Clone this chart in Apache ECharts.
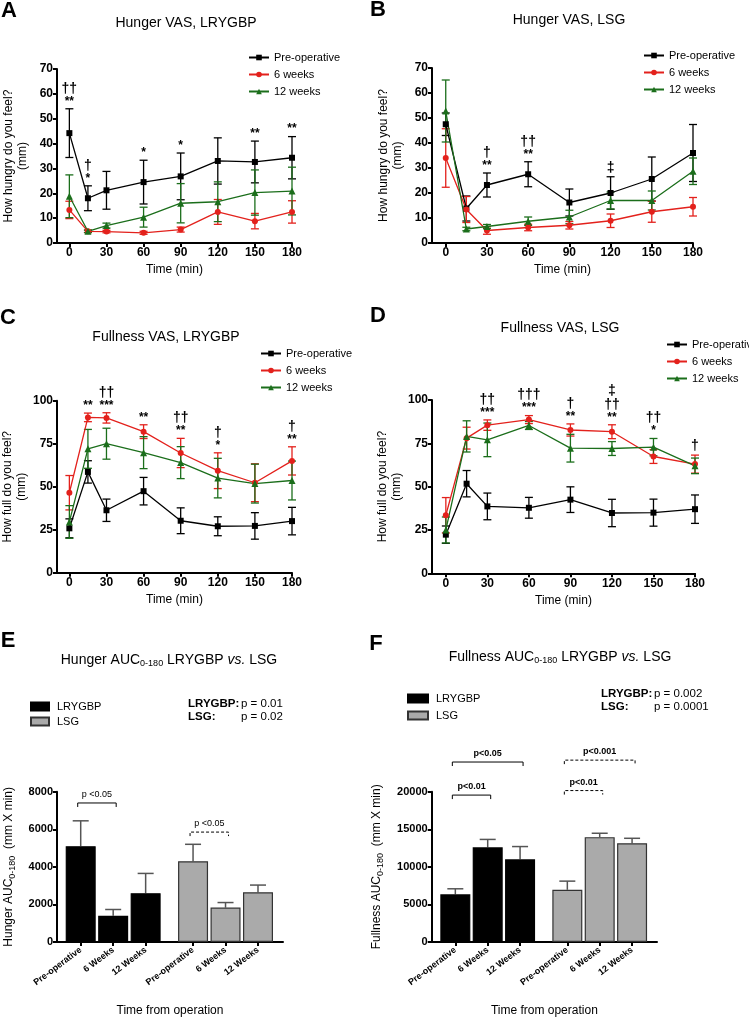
<!DOCTYPE html>
<html><head><meta charset="utf-8">
<script src="https://cdn.jsdelivr.net/npm/echarts@6/dist/echarts.min.js"></script>
<style>html,body{margin:0;padding:0;background:#fff}#c{width:749px;height:1018px}</style>
</head><body><div id="c"></div>
<script>
const FONT = 'Liberation Sans, Arial, sans-serif';

// ---------- DATA ----------
const times = [0, 15, 30, 60, 90, 120, 150, 180];
const timeTicks = [0, 30, 60, 90, 120, 150, 180];
const groupNames = ['Pre-operative', '6 weeks', '12 weeks'];

// A: Hunger VAS, LRYGBP (mean, SEM)
const hungerRygbPre = [44.2, 18.0, 21.2, 24.5, 26.8, 33.0, 32.6, 34.3];
const hungerRygbPreSem = [9.8, 5.0, 7.6, 8.8, 9.4, 9.3, 8.4, 8.5];
const hungerRygb6 = [13.3, 4.7, 4.6, 4.1, 5.4, 12.5, 8.8, 12.5];
const hungerRygb6Sem = [3.5, 0.5, 0.5, 0.6, 1.0, 5.0, 3.1, 4.5];
const hungerRygb12 = [18.8, 4.7, 7.0, 10.4, 16.0, 16.6, 20.3, 20.9];
const hungerRygb12Sem = [8.6, 0.5, 1.0, 4.0, 7.9, 8.0, 9.1, 9.6];
const annotA = [[0, '††', '**'], [15, '†', '*'], [60, '', '*'], [90, '', '*'], [150, '', '**'], [180, '', '**']];

// B: Hunger VAS, LSG
const hungerLsgPre = [47.5, 13.8, 23.2, 27.5, 16.2, 20.0, 25.6, 36.0];
const hungerLsgPreSem = [4.5, 5.0, 4.8, 5.0, 5.4, 6.5, 8.8, 11.4];
const hungerLsg6 = [34.0, 13.4, 5.0, 6.2, 7.1, 8.9, 12.5, 14.5];
const hungerLsg6Sem = [11.7, 5.2, 1.5, 1.3, 1.5, 2.7, 4.2, 3.7];
const hungerLsg12 = [52.8, 5.6, 6.6, 8.7, 10.4, 17.0, 17.0, 28.7];
const hungerLsg12Sem = [12.4, 0.7, 0.8, 1.7, 2.7, 3.4, 3.8, 5.3];
const annotB = [[30, '†', '**'], [60, '††', '**'], [120, '‡', '']];

// C: Fullness VAS, LRYGBP
const fullRygbPre = [25.8, 58.6, 36.3, 47.4, 30.2, 27.0, 27.2, 30.0];
const fullRygbPreSem = [5.5, 6.5, 6.5, 8.0, 7.5, 5.5, 7.7, 8.0];
const fullRygb6 = [46.5, 90.3, 90.0, 82.0, 69.6, 59.3, 52.3, 65.0];
const fullRygb6Sem = [10.0, 2.5, 3.0, 4.0, 8.5, 10.4, 11.0, 8.2];
const fullRygb12 = [29.5, 72.0, 75.0, 69.8, 64.0, 55.0, 51.8, 53.6];
const fullRygb12Sem = [9.5, 11.3, 9.0, 9.3, 9.3, 11.5, 11.3, 11.3];
const annotC = [[15, '', '**'], [30, '††', '***'], [60, '', '**'], [90, '††', '**'], [120, '†', '*'], [180, '†', '**']];

// D: Fullness VAS, LSG
const fullLsgPre = [22.3, 51.7, 38.6, 37.8, 42.5, 34.8, 35.0, 37.0];
const fullLsgPreSem = [5.0, 7.6, 7.7, 6.0, 7.4, 7.9, 7.8, 8.2];
const fullLsg6 = [33.5, 78.0, 85.5, 88.7, 82.7, 81.7, 67.4, 63.0];
const fullLsg6Sem = [10.2, 6.3, 3.0, 2.3, 3.5, 4.0, 4.0, 5.2];
const fullLsg12 = [25.0, 79.0, 77.0, 85.3, 72.2, 72.0, 72.8, 62.0];
const fullLsg12Sem = [7.5, 9.0, 9.7, 2.3, 8.0, 4.0, 5.0, 4.5];
const annotD = [[30, '††', '***'], [60, '†††', '***'], [90, '†', '**'], [120, '‡\n††', '**'], [150, '††', '*'], [180, '†', '']];

// E / F: AUC bars
const barGroups = ['LRYGBP', 'LSG'];
const barCategories = ['Pre-operative', '6 Weeks', '12 Weeks'];
const hungerAucRygb = [5100, 1400, 2600];
const hungerAucRygbSem = [1350, 330, 1050];
const hungerAucLsg = [4300, 1830, 2650];
const hungerAucLsgSem = [900, 270, 380];
const fullAucRygb = [6350, 12600, 11000];
const fullAucRygbSem = [730, 1050, 1700];
const fullAucLsg = [6950, 13950, 13150];
const fullAucLsgSem = [1150, 520, 650];
// comparisons: [group, fromIndex, toIndex, level, label, dashed]
const hungerComparisons = [[0, 0, 1, 7400, 'p <0.05', false], [1, 0, 1, 5850, 'p <0.05', true]];
const fullComparisons = [[0, 0, 1, 19550, 'p<0.01', false], [0, 0, 2, 23950, 'p<0.05', false],
                         [1, 0, 1, 20150, 'p<0.01', true], [1, 0, 2, 24200, 'p<0.001', true]];
const hungerStats = [['LRYGBP:', 'p = 0.01'], ['LSG:', 'p = 0.02']];
const fullStats = [['LRYGBP:', 'p = 0.002'], ['LSG:', 'p = 0.0001']];

// ---------- LAYOUT / STYLE ----------
const lineColors = ['#000000', '#e3211c', '#1b6e1b'];
const lineSymbols = ['rect', 'circle', 'triangle'];
const groupOffset = 3.46;           // x position of second bar group
const barPos = (g, i) => g * groupOffset + i;

const linePanels = [
  { title: 'Hunger VAS, LRYGBP', tx: 186, ty: 23, letter: 'A', lx: 9, ly: 11,
    grid: { left: 57, top: 69, width: 235, height: 174 }, yMax: 70, yInt: 10,
    yName: 'How hungry do you feel?\n(mm)', legend: { left: 243, top: 47 },
    means: [hungerRygbPre, hungerRygb6, hungerRygb12], sems: [hungerRygbPreSem, hungerRygb6Sem, hungerRygb12Sem], annot: annotA },
  { title: 'Hunger VAS, LSG', tx: 569, ty: 20, letter: 'B', lx: 378, ly: 10,
    grid: { left: 432, top: 68, width: 261, height: 175 }, yMax: 70, yInt: 10,
    yName: 'How hungry do you feel?\n(mm)', legend: { left: 638, top: 45 },
    means: [hungerLsgPre, hungerLsg6, hungerLsg12], sems: [hungerLsgPreSem, hungerLsg6Sem, hungerLsg12Sem], annot: annotB },
  { title: 'Fullness VAS, LRYGBP', tx: 166, ty: 337, letter: 'C', lx: 8, ly: 318,
    grid: { left: 57, top: 400.7, width: 235, height: 172 }, yMax: 100, yInt: 25,
    yName: 'How full do you feel?\n(mm)', legend: { left: 255, top: 343 },
    means: [fullRygbPre, fullRygb6, fullRygb12], sems: [fullRygbPreSem, fullRygb6Sem, fullRygb12Sem], annot: annotC },
  { title: 'Fullness VAS, LSG', tx: 560, ty: 328, letter: 'D', lx: 378, ly: 316,
    grid: { left: 432, top: 400, width: 263, height: 173.3 }, yMax: 100, yInt: 25,
    yName: 'How full do you feel?\n(mm)', legend: { left: 661, top: 334 },
    means: [fullLsgPre, fullLsg6, fullLsg12], sems: [fullLsgPreSem, fullLsg6Sem, fullLsg12Sem], annot: annotD }
];

const barPanels = [
  { title: 'Hunger AUC{sub|0-180} LRYGBP {i|vs.} LSG', tx: 169, ty: 660, letter: 'E', lx: 8, ly: 641,
    grid: { left: 57, top: 791.7, width: 226, height: 150.6 }, yMax: 8000, yInt: 2000, nameGap: 40,
    yName: 'Hunger AUC{sub|0-180}  (mm X min)', legend: { left: 25, top: 696, itemGap: 4, itemWidth: 18 },
    vals: [hungerAucRygb, hungerAucLsg], sems: [hungerAucRygbSem, hungerAucLsgSem],
    comps: hungerComparisons, compBold: false, stats: hungerStats, sx: 188, sy: 704 },
  { title: 'Fullness AUC{sub|0-180} LRYGBP {i|vs.} LSG', tx: 560, ty: 657, letter: 'F', lx: 376, ly: 644,
    grid: { left: 431.7, top: 791.7, width: 225.3, height: 150.6 }, yMax: 20000, yInt: 5000, nameGap: 47,
    yName: 'Fullness AUC{sub|0-180}  (mm X min)', legend: { left: 402, top: 688, itemGap: 6, itemWidth: 20 },
    vals: [fullAucRygb, fullAucLsg], sems: [fullAucRygbSem, fullAucLsgSem],
    comps: fullComparisons, compBold: true, stats: fullStats, sx: 601, sy: 694 }
];

const axisLineStyle = { show: true, onZero: false, lineStyle: { color: '#000', width: 2 } };
const tickStyle = { show: true, length: 4, lineStyle: { color: '#000', width: 2 } };
const subRich = {
  sub: { fontSize: 9, lineHeight: 8, verticalAlign: 'bottom', fontFamily: FONT },
  i: { fontStyle: 'italic', fontSize: 14, fontFamily: FONT }
};

const grids = [], xAxes = [], yAxes = [], series = [], legends = [], graphics = [];

linePanels.forEach((p, i) => {
  grids.push(Object.assign({}, p.grid));
  xAxes.push({
    type: 'value', gridIndex: i, min: -10, max: 180,
    axisLine: axisLineStyle,
    axisTick: Object.assign({ customValues: timeTicks }, tickStyle),
    axisLabel: { customValues: timeTicks, fontSize: 12, fontWeight: 'bold', color: '#000', margin: 4, fontFamily: FONT },
    splitLine: { show: false },
    name: 'Time (min)', nameLocation: 'middle', nameGap: 21,
    nameTextStyle: { fontSize: 12, color: '#000', fontFamily: FONT }
  });
  yAxes.push({
    type: 'value', gridIndex: i, min: 0, max: p.yMax, interval: p.yInt,
    axisLine: axisLineStyle, axisTick: tickStyle,
    axisLabel: { fontSize: 12, fontWeight: 'bold', color: '#000', margin: 4, fontFamily: FONT },
    splitLine: { show: false },
    name: p.yName, nameLocation: 'middle', nameGap: 27,
    nameTextStyle: { fontSize: 12, color: '#000', lineHeight: 14, fontFamily: FONT }
  });
  groupNames.forEach((nm, g) => {
    const col = lineColors[g];
    const means = p.means[g], sems = p.sems[g];
    series.push({
      type: 'custom', name: nm + ' SEM', xAxisIndex: i, yAxisIndex: i, z: 2, silent: true,
      encode: { x: 0, y: 1 },
      data: times.map((t, k) => [t, means[k], sems[k]]),
      renderItem: (params, api) => {
        const x = api.value(0), m = api.value(1), e = api.value(2);
        const top = api.coord([x, m + e]), bot = api.coord([x, m - e]);
        const hw = 4, st = { stroke: col, lineWidth: 1.3 };
        return { type: 'group', children: [
          { type: 'line', shape: { x1: top[0], y1: top[1], x2: bot[0], y2: bot[1] }, style: st },
          { type: 'line', shape: { x1: top[0] - hw, y1: top[1], x2: top[0] + hw, y2: top[1] }, style: st },
          { type: 'line', shape: { x1: bot[0] - hw, y1: bot[1], x2: bot[0] + hw, y2: bot[1] }, style: st }
        ]};
      }
    });
    series.push({
      type: 'line', name: nm, xAxisIndex: i, yAxisIndex: i, z: 3,
      data: times.map((t, k) => [t, means[k]]),
      symbol: lineSymbols[g], symbolSize: g === 2 ? 7 : 6, showSymbol: true,
      lineStyle: { color: col, width: 1.3 }, itemStyle: { color: col }
    });
  });
  // significance annotations
  const annot = p.annot;
  series.push({
    type: 'custom', name: 'annot' + i, xAxisIndex: i, yAxisIndex: i, z: 4, silent: true,
    encode: { x: 0, y: 1 },
    data: annot.map(a => {
      const k = times.indexOf(a[0]);
      return [a[0], Math.max(...p.means.map((m, g) => m[k] + p.sems[g][k]))];
    }),
    renderItem: (params, api) => {
      const a = annot[params.dataIndex];
      const c = api.coord([api.value(0), api.value(1)]);
      const lines = [];
      if (a[1]) a[1].split('\n').forEach(l => lines.push('{d|' + l + '}'));
      if (a[2]) lines.push('{s|' + a[2] + '}');
      return { type: 'text', x: c[0], y: c[1] - 2, style: {
        text: lines.join('\n'), align: 'center', verticalAlign: 'bottom', fill: '#000',
        rich: {
          d: { fontSize: 14, fontWeight: 'bold', lineHeight: 14, fill: '#000', fontFamily: FONT },
          s: { fontSize: 12, fontWeight: 'bold', lineHeight: 11, fill: '#000', fontFamily: FONT }
        }
      }};
    }
  });
  legends.push({
    orient: 'vertical', left: p.legend.left, top: p.legend.top, itemWidth: 20, itemHeight: 7, itemGap: 6,
    data: groupNames, selectedMode: false,
    textStyle: { fontSize: 11, color: '#000', fontFamily: FONT }
  });
  graphics.push({ type: 'text', x: p.tx, y: p.ty, style: { text: p.title, fontSize: 14, fill: '#000', fontFamily: FONT, align: 'center', verticalAlign: 'middle' } });
  graphics.push({ type: 'text', x: p.lx, y: p.ly, style: { text: p.letter, fontSize: 22, fontWeight: 'bold', fill: '#000', fontFamily: FONT, align: 'center', verticalAlign: 'middle' } });
});

const barColors = ['#000000', '#aaaaaa'];
barPanels.forEach((p, j) => {
  const i = 4 + j;
  const positions = [];
  const labels = [];
  barGroups.forEach((gname, g) => barCategories.forEach((c, k) => { positions.push(barPos(g, k)); labels.push(c); }));
  grids.push(Object.assign({}, p.grid));
  xAxes.push({
    type: 'value', gridIndex: i, min: -0.73, max: barPos(1, 2) + 0.77,
    axisLine: axisLineStyle,
    axisTick: Object.assign({ customValues: positions }, tickStyle),
    axisLabel: { customValues: positions, rotate: 37, fontSize: 9, fontWeight: 'bold', color: '#000', margin: 7, fontFamily: FONT,
      formatter: v => { let best = 0; positions.forEach((q, n) => { if (Math.abs(q - v) < Math.abs(positions[best] - v)) best = n; }); return labels[best]; } },
    splitLine: { show: false },
    name: 'Time from operation', nameLocation: 'middle', nameGap: 63,
    nameTextStyle: { fontSize: 12, color: '#000', fontFamily: FONT }
  });
  yAxes.push({
    type: 'value', gridIndex: i, min: 0, max: p.yMax, interval: p.yInt,
    axisLine: axisLineStyle, axisTick: tickStyle,
    axisLabel: { fontSize: 11, fontWeight: 'bold', color: '#000', margin: 4, fontFamily: FONT, formatter: v => String(v) },
    splitLine: { show: false },
    name: p.yName, nameLocation: 'middle', nameGap: p.nameGap,
    nameTextStyle: { fontSize: 12, color: '#000', lineHeight: 16, fontFamily: FONT, rich: subRich }
  });
  barGroups.forEach((gname, g) => {
    const vals = p.vals[g], sems = p.sems[g];
    series.push({
      type: 'custom', name: gname + ' SEM ' + j, xAxisIndex: i, yAxisIndex: i, z: 1, silent: true,
      encode: { x: 0, y: 1 },
      data: vals.map((v, k) => [barPos(g, k), v, sems[k]]),
      renderItem: (params, api) => {
        const x = api.value(0), m = api.value(1), e = api.value(2);
        const top = api.coord([x, m + e]), bot = api.coord([x, m]);
        const hw = 8, st = { stroke: '#555', lineWidth: 1.5 };
        return { type: 'group', children: [
          { type: 'line', shape: { x1: top[0], y1: top[1], x2: bot[0], y2: bot[1] }, style: st },
          { type: 'line', shape: { x1: top[0] - hw, y1: top[1], x2: top[0] + hw, y2: top[1] }, style: st }
        ]};
      }
    });
    series.push({
      type: 'bar', name: gname, xAxisIndex: i, yAxisIndex: i, z: 2, barWidth: 30, barGap: '-100%',
      data: vals.map((v, k) => [barPos(g, k), v]),
      itemStyle: { color: barColors[g], borderColor: g === 0 ? '#000' : '#333', borderWidth: 1.2 }
    });
  });
  const comps = p.comps, bold = p.compBold;
  series.push({
    type: 'custom', name: 'comp' + j, xAxisIndex: i, yAxisIndex: i, z: 5, silent: true, clip: false,
    encode: { x: 0, y: 1 },
    data: comps.map(c => [barPos(c[0], c[1]), c[3], barPos(c[0], c[2])]),
    renderItem: (params, api) => {
      const c = comps[params.dataIndex];
      const a = api.coord([api.value(0), api.value(1)]);
      const b = api.coord([api.value(2), api.value(1)]);
      const x1 = a[0] - 3, x2 = b[0] + 3, y = a[1];
      return { type: 'group', children: [
        { type: 'polyline', shape: { points: [[x1, y + 4], [x1, y], [x2, y], [x2, y + 4]] },
          style: { stroke: '#000', lineWidth: 1, fill: null, lineDash: c[5] ? [3, 2] : null } },
        { type: 'text', x: (x1 + x2) / 2, y: y - 4, style: { text: c[4], fontSize: 9, fontWeight: bold ? 'bold' : 'normal',
          fill: '#000', fontFamily: FONT, align: 'center', verticalAlign: 'bottom' } }
      ]};
    }
  });
  legends.push({
    orient: 'vertical', left: p.legend.left, top: p.legend.top, itemWidth: p.legend.itemWidth, itemHeight: 8,
    itemGap: p.legend.itemGap, icon: 'rect', data: barGroups, selectedMode: false,
    textStyle: { fontSize: 11, color: '#000', fontFamily: FONT, padding: [0, 0, 0, 3] }
  });
  graphics.push({ type: 'text', x: p.tx, y: p.ty, style: { text: p.title, fontSize: 14, fill: '#000', fontFamily: FONT,
    align: 'center', verticalAlign: 'middle', lineHeight: 16, rich: subRich } });
  graphics.push({ type: 'text', x: p.lx, y: p.ly, style: { text: p.letter, fontSize: 22, fontWeight: 'bold', fill: '#000', fontFamily: FONT, align: 'center', verticalAlign: 'middle' } });
  p.stats.forEach((s, k) => {
    graphics.push({ type: 'text', x: p.sx, y: p.sy + k * 13, style: {
      text: '{b|' + s[0] + '}{n|' + s[1] + '}', fontSize: 11.5, fill: '#000', fontFamily: FONT, align: 'left', verticalAlign: 'middle',
      rich: { b: { fontWeight: 'bold', fontSize: 11.5, width: 53, fontFamily: FONT, fill: '#000' },
              n: { fontSize: 11.5, fontFamily: FONT, fill: '#000' } } } });
  });
});

const chart = echarts.init(document.getElementById('c'), null, { renderer: 'canvas', width: 749, height: 1018 });
chart.setOption({
  animation: false,
  backgroundColor: '#fff',
  textStyle: { fontFamily: FONT },
  grid: grids, xAxis: xAxes, yAxis: yAxes, legend: legends, series: series,
  graphic: { elements: graphics }
});
</script></body></html>
